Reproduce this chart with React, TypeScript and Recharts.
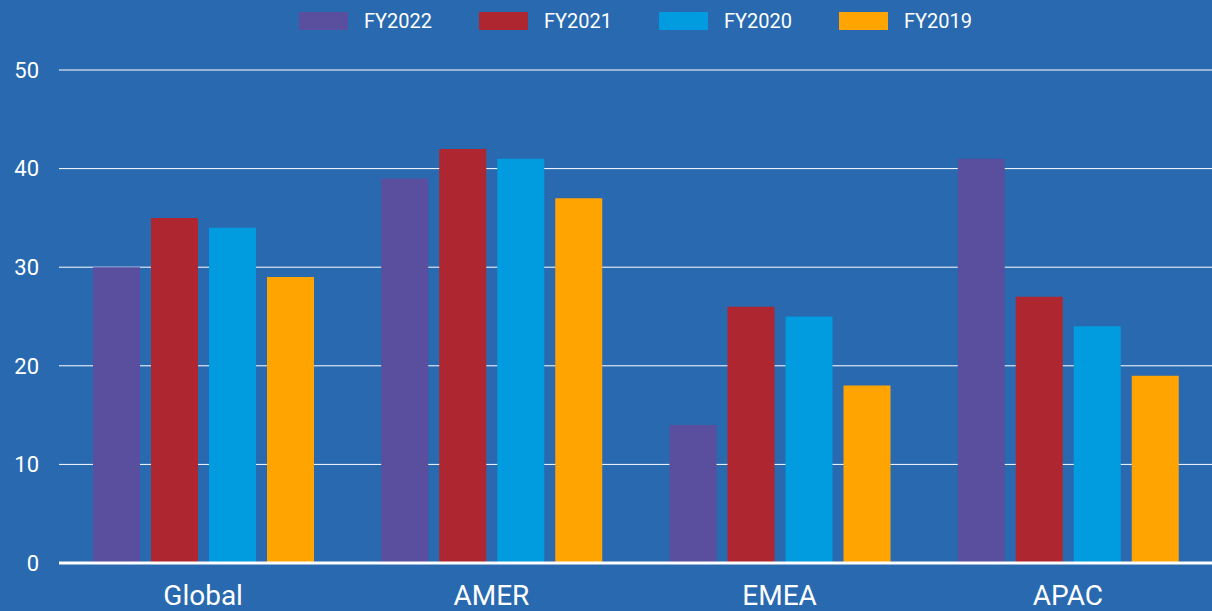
import { BarChart, Bar, XAxis, YAxis, CartesianGrid, Legend } from "recharts";

const regions = ["Global", "AMER", "EMEA", "APAC"];
const fy2022 = [30, 39, 14, 41];
const fy2021 = [35, 42, 26, 27];
const fy2020 = [34, 41, 25, 24];
const fy2019 = [29, 37, 18, 19];
const yTicks = [0, 10, 20, 30, 40, 50];

const series = [
  { key: "FY2022", color: "#5a4e9f" },
  { key: "FY2021", color: "#ae2730" },
  { key: "FY2020", color: "#009cdf" },
  { key: "FY2019", color: "#ffa400" },
];

const data = regions.map((r, i) => ({
  region: r,
  FY2022: fy2022[i],
  FY2021: fy2021[i],
  FY2020: fy2020[i],
  FY2019: fy2019[i],
}));

const BG = "#2869b0";
const FONT = "Roboto, 'Noto Sans', sans-serif";

function LegendRow() {
  return (
    <div
      style={{
        display: "flex",
        justifyContent: "center",
        gap: 47,
        marginLeft: 59,
        width: 1153,
        height: 24,
        fontFamily: FONT,
        fontSize: 20,
        color: "#fff",
      }}
    >
      {series.map((s) => (
        <div key={s.key} style={{ display: "flex", alignItems: "center" }}>
          <span style={{ display: "inline-block", width: 49, height: 18, background: s.color, marginRight: 16 }} />
          <span>{s.key}</span>
        </div>
      ))}
    </div>
  );
}

export default function App() {
  return (
    <div style={{ position: "fixed", left: 0, top: 0, width: 1212, height: 611, background: BG }}>
      <BarChart
        width={1212}
        height={611}
        data={data}
        margin={{ top: 46, right: 0, bottom: 0, left: 0 }}
        barSize={47}
        barGap={11}
      >
        <CartesianGrid vertical={false} stroke="#ffffff" strokeWidth={1} />
        <XAxis
          dataKey="region"
          height={48}
          tickLine={false}
          tickSize={0}
          tickMargin={22}
          axisLine={{ stroke: "#ffffff", strokeWidth: 3 }}
          tick={{ fill: "#ffffff", fontSize: 28, fontFamily: FONT }}
        />
        <YAxis
          width={59}
          domain={[0, 50]}
          ticks={yTicks}
          axisLine={false}
          tickLine={false}
          tickSize={0}
          tickMargin={20}
          tick={{ fill: "#ffffff", fontSize: 22, fontFamily: FONT }}
        />
        <Legend verticalAlign="top" wrapperStyle={{ top: 9, left: 0 }} content={() => <LegendRow />} />
        {series.map((s) => (
          <Bar key={s.key} dataKey={s.key} fill={s.color} isAnimationActive={false} />
        ))}
      </BarChart>
    </div>
  );
}
